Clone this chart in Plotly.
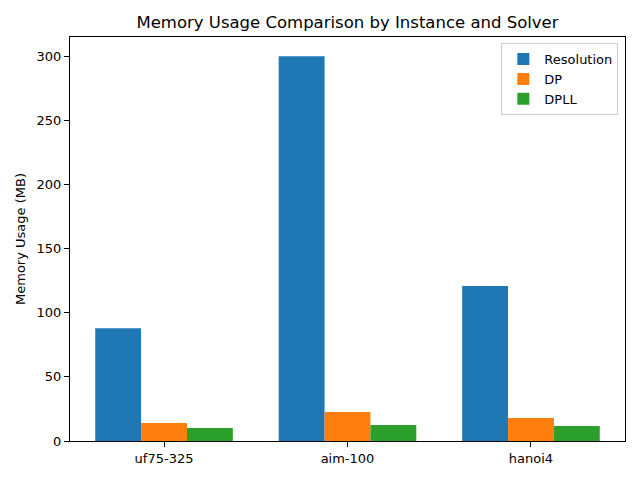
import plotly.graph_objects as go

instances = ["uf75-325", "aim-100", "hanoi4"]
solvers = ["Resolution", "DP", "DPLL"]
resolution = [88.0, 300.0, 120.8]
dp = [14.0, 22.6, 17.9]
dpll = [10.1, 12.5, 11.7]
colors = ["#1f77b4", "#ff7f0e", "#2ca02c"]
y_ticks = [0, 50, 100, 150, 200, 250, 300]

fig = go.Figure()
for name, vals, c in zip(solvers, [resolution, dp, dpll], colors):
    fig.add_trace(go.Bar(x=instances, y=vals, name=name, marker=dict(color=c, line=dict(width=0))))

font = "DejaVu Sans, sans-serif"
fig.update_layout(
    width=640, height=480,
    margin=dict(l=70, r=15, t=37, b=39),
    paper_bgcolor="white", plot_bgcolor="white",
    barmode="group", bargap=0.25, bargroupgap=0,
    font=dict(family=font, size=13, color="black"),
    title=dict(text="Memory Usage Comparison by Instance and Solver", xref="paper", x=0.5, xanchor="center",
               y=1 - 22/480, yanchor="middle", font=dict(size=16.5, family=font)),
    legend=dict(x=0.988, xanchor="right", y=0.985, yanchor="top",
                bordercolor="#cccccc", borderwidth=1, bgcolor="rgba(255,255,255,0.8)",
                font=dict(size=13), tracegroupgap=0, itemwidth=32),
    showlegend=True,
)
fig.update_xaxes(range=[-0.5125, 2.5125], showline=True, linecolor="black", linewidth=1, mirror=True,
                 ticks="outside", ticklen=5, tickcolor="black", showgrid=False, zeroline=False,
                 tickfont=dict(size=13))
fig.update_yaxes(range=[0, 315], tickvals=y_ticks, showline=True, linecolor="black", linewidth=1, mirror=True,
                 ticks="outside", ticklen=5, tickcolor="black", showgrid=False, zeroline=False,
                 title=dict(text="Memory Usage (MB)", font=dict(size=13), standoff=8),
                 tickfont=dict(size=13))
fig.write_html("out.html", config={"displayModeBar": False},
               post_script="document.body.style.margin='0';")
